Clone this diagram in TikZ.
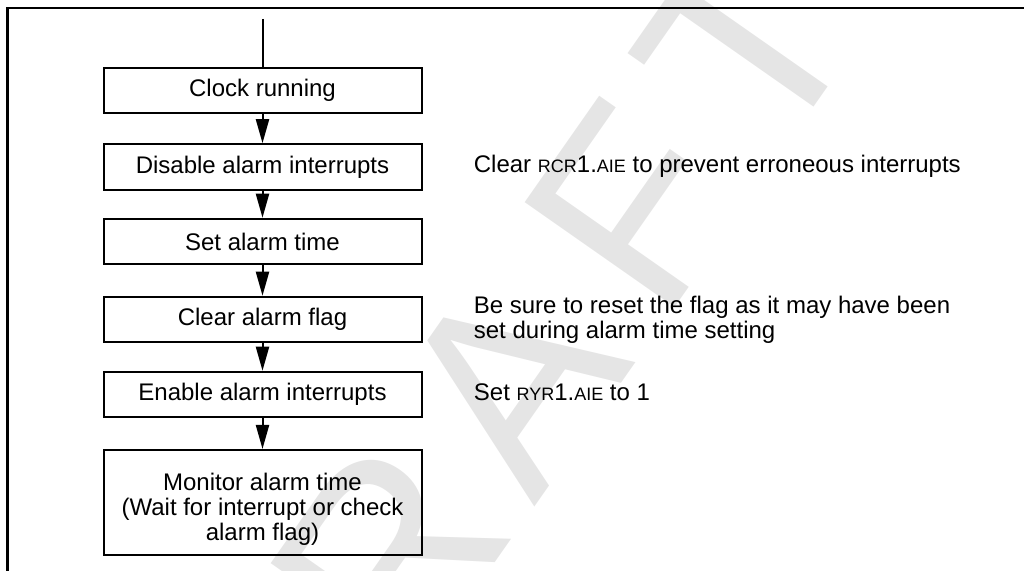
\documentclass[tikz,border=0pt]{standalone}
\usepackage{fontspec}
\setmainfont{Liberation Sans}
\usetikzlibrary{arrows.meta}
\definecolor{wmgray}{RGB}{229,229,229}
% register and bit names are set in reduced capitals
\newcommand\regfld[1]{{\fontsize{9}{10}\selectfont #1}}
% three centred lines, set a little below the middle of their box
\newcommand\lowstack[1]{\raisebox{-4.25pt}[33.75pt][3.75pt]{\begin{tabular}[b]{@{}c@{}}#1\end{tabular}}}

\begin{document}
\begin{tikzpicture}[x=0.5pt,y=-0.5pt,
  stepbox/.style={draw, line width=1pt, minimum width=159pt, minimum height=22.75pt,
    inner sep=0pt, align=center, font=\fontsize{12}{12.5}\selectfont},
  flow/.style={line width=1pt, -{Triangle[length=12pt,width=6.5pt]}},
  feed/.style={line width=1pt},
  note/.style={anchor=base west, inner sep=0pt, align=left, font=\fontsize{12}{12.5}\selectfont},
  frame/.style={line width=1.3pt},
  watermark/.style={text=wmgray, font=\fontsize{133}{133}\selectfont, rotate=55,
    anchor=base west, inner sep=0pt}]
\useasboundingbox (0,0) rectangle (1024,571);

% background stamp
\node[watermark] (wm) at (278.6,872.9)
  {D\hspace{17.5pt}R\hspace{13.5pt}A\hspace{22.5pt}F\hspace{17pt}T};

% open frame: top and left rules
\draw[frame] (1024,8) -- (7.5,8) -- (7.5,571);

% flow steps
\coordinate (entry) at (262.5,19);
\node[stepbox] (clk) at (262.5,90.5) {Clock running};
\node[stepbox] (dis) at (262.5,167) {Disable alarm interrupts};
\node[stepbox] (set) at (262.5,241.5) {Set alarm time};
\node[stepbox] (clr) at (262.5,319.5) {Clear alarm flag};
\node[stepbox] (ena) at (262.5,394.5) {Enable alarm interrupts};
\node[stepbox, minimum height=52.5pt] (mon) at (262.5,502.5)
  {\lowstack{Monitor alarm time\\(Wait for interrupt or check\\alarm flag)}};

\draw[feed] (entry) -- (clk);
\draw[flow] (clk) -- (dis);
\draw[flow] (dis) -- (set);
\draw[flow] (set) -- (clr);
\draw[flow] (clr) -- (ena);
\draw[flow] (ena) -- (mon);

% remarks beside the steps
\node[note] (ndis) at (473.5,173) {Clear \regfld{RCR}1.\regfld{AIE} to prevent erroneous interrupts};
\node[note] (nclr) at (473.5,339) {Be sure to reset the flag as it may have been\\set during alarm time setting};
\node[note] (nena) at (473.5,401) {Set \regfld{RYR}1.\regfld{AIE} to 1};
\end{tikzpicture}
\end{document}
